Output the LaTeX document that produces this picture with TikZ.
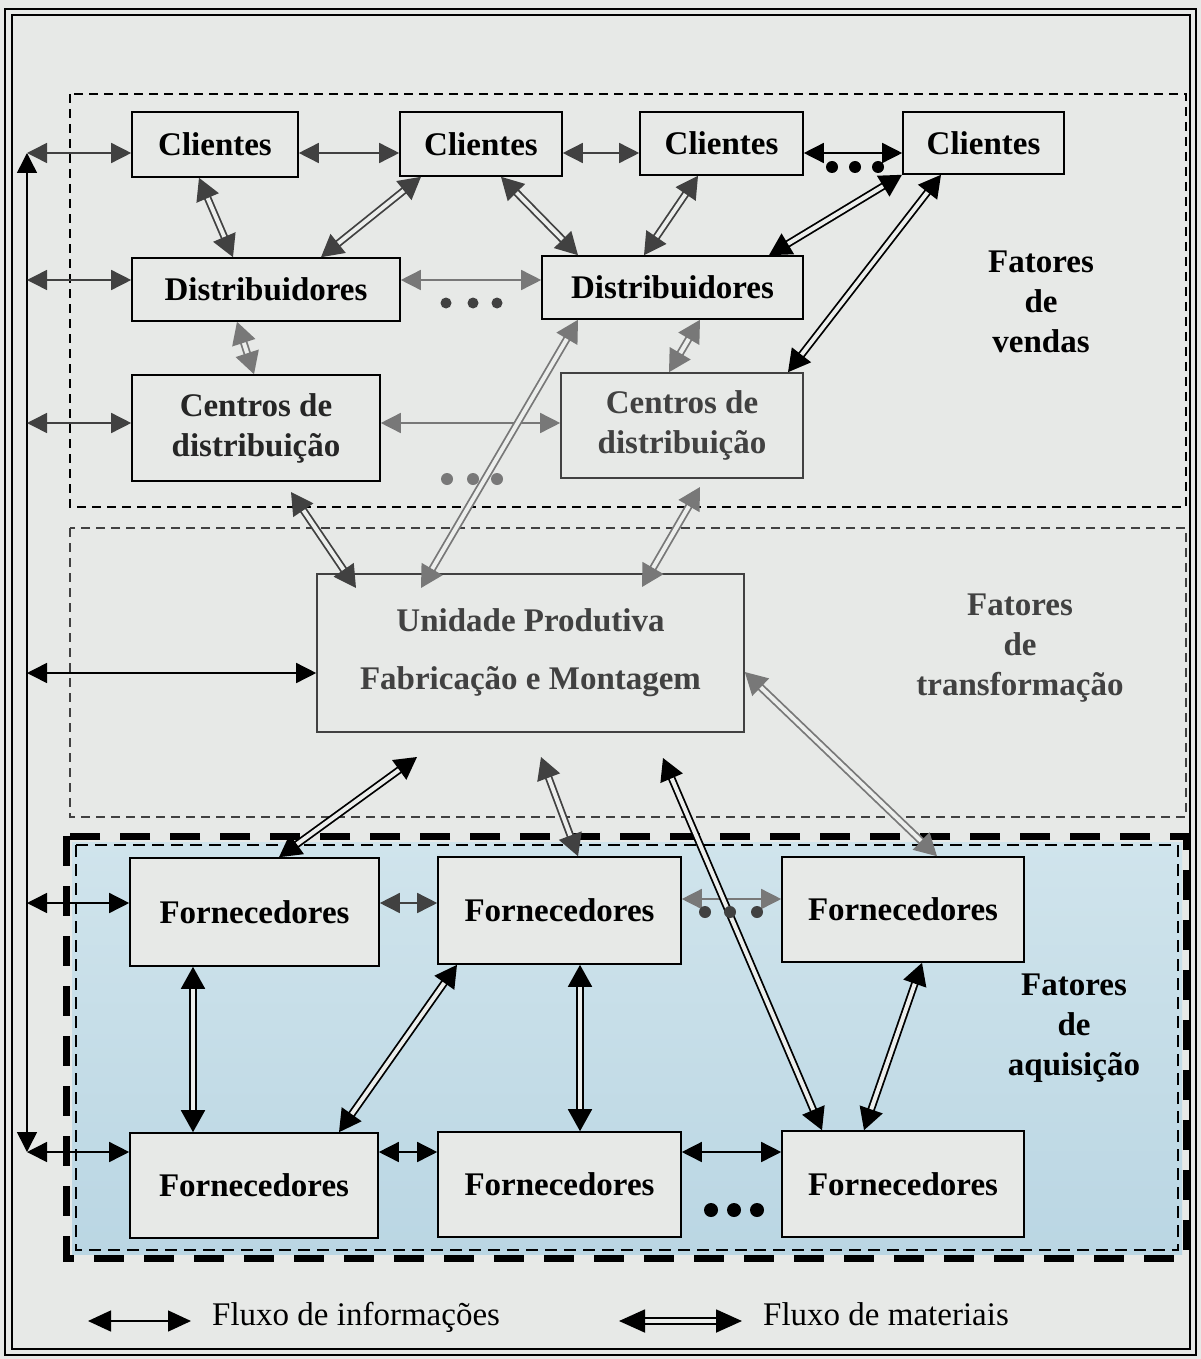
\documentclass[tikz,border=0pt]{standalone}
\usepackage{fontspec}
\setmainfont{Liberation Serif}
\usetikzlibrary{arrows.meta}
\definecolor{bgc}{RGB}{231,233,231}
\definecolor{blueA}{RGB}{208,228,236}
\definecolor{blueB}{RGB}{186,214,227}
\definecolor{dk}{RGB}{65,65,65}
\definecolor{lt}{RGB}{120,120,120}
\definecolor{innerc}{RGB}{236,238,236}
\begin{document}
\begin{tikzpicture}[x=1pt,y=-1pt,
  box/.style={draw, line width=1.6pt, fill=bgc, font=\fontsize{33}{40}\selectfont\bfseries, align=center, inner sep=0pt},
  infoarrow/.style={line width=1.5pt, {Triangle[length=20pt,width=20pt]}-{Triangle[length=20pt,width=20pt]}},
  matarrow/.style={double=innerc, double distance=4pt, line width=1.8pt, {Triangle[length=22pt,width=24pt]}-{Triangle[length=22pt,width=24pt]}},
  lbl/.style={font=\fontsize{33}{40}\selectfont\bfseries, align=center, inner sep=0pt},
  legtext/.style={font=\fontsize{33}{40}\selectfont, anchor=base west, inner sep=0pt},
  region/.style={dash pattern=on 9pt off 6pt, line width=1.8pt},
  dotm/.style={circle, fill, inner sep=0pt, minimum size=12pt}
]
\useasboundingbox (0,0) rectangle (1201,1359);
\fill[bgc] (0,0) rectangle (1201,1359);
% outer frame
\draw[line width=2.5pt] (5,9) rectangle (1196,1355);
\draw[line width=2pt] (12,15) rectangle (1190,1349);
% regions
\draw[region] (70,94) rectangle (1186,507);
\draw[region, draw=dk] (70,528) rectangle (1186,817);
\shade[top color=blueA, bottom color=blueB] (72,842) rectangle (1182,1254);
\draw[line width=7pt, dash pattern=on 30pt off 20pt] (66,836) rectangle (1186,1258);
\draw[line width=2pt, dash pattern=on 12pt off 7pt] (76,845) rectangle (1178,1250);

% boxes
\node[box, minimum width=166pt, minimum height=65pt] (cl1) at (215,144.5) {Clientes};
\node[box, minimum width=162pt, minimum height=64pt] (cl2) at (481,144) {Clientes};
\node[box, minimum width=163pt, minimum height=63pt] (cl3) at (721.5,143.5) {Clientes};
\node[box, minimum width=161pt, minimum height=62pt] (cl4) at (983.5,143) {Clientes};
\node[box, minimum width=268pt, minimum height=63pt] (d1) at (266,289.5) {Distribuidores};
\node[box, minimum width=261pt, minimum height=63pt] (d2) at (672.5,287.5) {Distribuidores};
\node[box, minimum width=248pt, minimum height=106pt, text=black!85] (c1) at (256,428) {Centros de\\distribuição};
\node[box, minimum width=242pt, minimum height=105pt, draw=dk, text=dk] (c2) at (682,425.5) {Centros de\\distribuição};
\node[box, minimum width=427pt, minimum height=158pt, draw=dk, text=dk] (u) at (530.5,653) {Unidade Produtiva\\[18pt]Fabricação e Montagem};
\node[box, minimum width=249pt, minimum height=108pt] (f1) at (254.5,912) {Fornecedores};
\node[box, minimum width=243pt, minimum height=107pt] (f2) at (559.5,910.5) {Fornecedores};
\node[box, minimum width=242pt, minimum height=105pt] (f3) at (903,909.5) {Fornecedores};
\node[box, minimum width=248pt, minimum height=105pt] (f4) at (254,1185.5) {Fornecedores};
\node[box, minimum width=243pt, minimum height=105pt] (f5) at (559.5,1184.5) {Fornecedores};
\node[box, minimum width=242pt, minimum height=106pt] (f6) at (903,1184) {Fornecedores};

% region labels
\node[lbl] (lv) at (1041,302) {Fatores\\de\\vendas};
\node[lbl, text=dk] (lt) at (1020,648) {Fatores\\de\\transformação};
\node[lbl] (la) at (1074,1028) {Fatores\\de\\aquisição};

% bus coordinates
\coordinate (bT) at (27,153);
\coordinate (bD) at (27,280);
\coordinate (bC) at (27,423);
\coordinate (bU) at (27,673);
\coordinate (bF) at (27,903);
\coordinate (bB) at (27,1152);

% information flows
\draw[infoarrow] (bB) -- (bT);
\draw[infoarrow, color=dk] (bT) -- (bT -| cl1.west);
\draw[infoarrow, color=dk] (bD) -- (bD -| d1.west);
\draw[infoarrow, color=dk] (bC) -- (bC -| c1.west);
\draw[infoarrow] (bU) -- (bU -| u.west);
\draw[infoarrow] (bF) -- (bF -| f1.west);
\draw[infoarrow] (bB) -- (bB -| f4.west);
\draw[infoarrow, color=dk] (cl1.east |- 0,153) -- (cl2.west |- 0,153);
\draw[infoarrow, color=dk] (cl2.east |- 0,153) -- (cl3.west |- 0,153);
\draw[infoarrow] (cl3.east |- 0,153) -- (cl4.west |- 0,153);
\draw[infoarrow, color=lt] (d1.east |- 0,280) -- (d2.west |- 0,280);
\draw[infoarrow, color=lt] (c1.east |- 0,423) -- (c2.west |- 0,423);
\draw[infoarrow, color=dk] (f1.east |- 0,903) -- (f2.west |- 0,903);
\draw[infoarrow, color=lt] (f2.east |- 0,899) -- (f3.west |- 0,899);
\draw[infoarrow] (f4.east |- 0,1152) -- (f5.west |- 0,1152);
\draw[infoarrow] (f5.east |- 0,1152) -- (f6.west |- 0,1152);

% free tip coordinates
\coordinate (uN1) at (421,588);
\coordinate (uN2) at (356,588);
\coordinate (uN3) at (642,587);
\coordinate (c1S) at (291,492);
\coordinate (c2S) at (700,487);
\coordinate (uS1) at (417,757);
\coordinate (uS2) at (541,757);
\coordinate (uS3) at (663,758);

% material flows
\draw[matarrow, color=dk] (cl1.south -| 199,0) -- (d1.north -| 233,0);
\draw[matarrow, color=dk] (cl2.south -| 421,0) -- (d1.north -| 321,0);
\draw[matarrow, color=dk] (cl2.south -| 501,0) -- (d2.north -| 578,0);
\draw[matarrow, color=dk] (cl3.south -| 698,0) -- (d2.north -| 644,0);
\draw[matarrow] (cl4.south -| 902,0) -- (d2.north -| 769,0);
\draw[matarrow] (cl4.south -| 941,0) -- (c2.north -| 788,0);
\draw[matarrow, color=lt] (d1.south -| 237,0) -- (c1.north -| 254,0);
\draw[matarrow, color=lt] (d2.south -| 700,0) -- (c2.north -| 669,0);
\draw[matarrow, color=lt] (d2.south -| 578,0) -- (uN1);
\draw[matarrow, color=dk] (c1S) -- (uN2);
\draw[matarrow, color=lt] (c2S) -- (uN3);
\draw[matarrow] (uS1) -- (f1.north -| 279,0);
\draw[matarrow, color=dk] (uS2) -- (f2.north -| 578,0);
\draw[matarrow, color=lt] (u.east |- 0,672) -- (f3.north -| 937,0);
\draw[matarrow] (uS3) -- (f6.north -| 822,0);
\draw[matarrow] (f1.south -| 193,0) -- (f4.north -| 193,0);
\draw[matarrow] (f2.south -| 457,0) -- (f4.north -| 339,0);
\draw[matarrow] (f2.south -| 580,0) -- (f5.north -| 580,0);
\draw[matarrow] (f3.south -| 922,0) -- (f6.north -| 864,0);

% ellipsis dots
\foreach \x [count=\i] in {832,855,878} \node[dotm] (dc\i) at (\x,167) {};
\foreach \x [count=\i] in {446,473,497} \node[dotm, color=dk, minimum size=11pt] (dd\i) at (\x,303) {};
\foreach \x [count=\i] in {447,473,497} \node[dotm, color=lt, minimum size=12pt] (de\i) at (\x,479) {};
\foreach \x [count=\i] in {705,730,757} \node[dotm, color=dk, minimum size=12pt] (df\i) at (\x,912) {};
\foreach \x [count=\i] in {711,734,757} \node[dotm, minimum size=14pt] (dg\i) at (\x,1210) {};

% legend
\coordinate (li1) at (88,1321);
\coordinate (li2) at (191,1321);
\coordinate (lm1) at (619,1321);
\coordinate (lm2) at (742,1321);
\draw[infoarrow, {Triangle[length=23pt,width=21pt]}-{Triangle[length=23pt,width=21pt]}] (li1) -- (li2);
\draw[matarrow, {Triangle[length=26pt,width=23pt]}-{Triangle[length=26pt,width=23pt]}] (lm1) -- (lm2);
\node[legtext] (lti) at (212,1325) {Fluxo de informações};
\node[legtext] (ltm) at (763,1325) {Fluxo de materiais};
\end{tikzpicture}
\end{document}
